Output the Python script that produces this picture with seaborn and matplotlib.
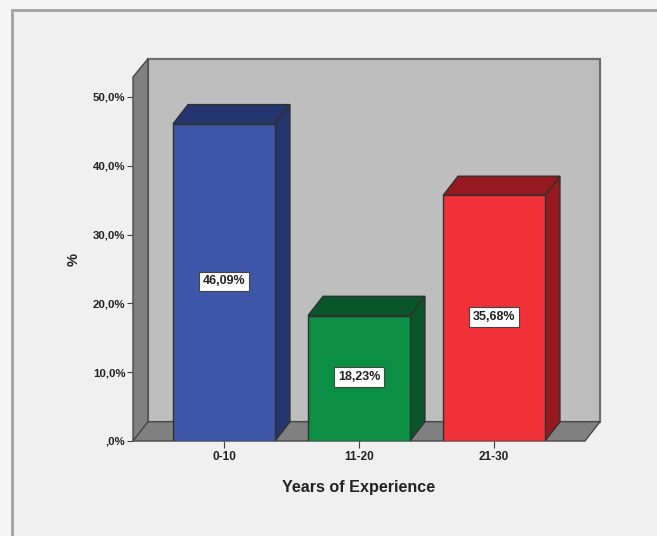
import matplotlib
matplotlib.use("Agg")
import matplotlib.pyplot as plt
from matplotlib.patches import Polygon, Rectangle
import pandas as pd
import seaborn as sns

categories = ["0-10", "11-20", "21-30"]
percentages = [46.09, 18.23, 35.68]
front_colors = ["#3d56a8", "#0a8f45", "#f23038"]
shade_colors = ["#25356f", "#08562a", "#96191f"]
y_ticks = [0, 10, 20, 30, 40, 50]
y_tick_labels = [",0%", "10,0%", "20,0%", "30,0%", "40,0%", "50,0%"]

W, H = 657, 536
sns.set_theme(style="white")
plt.rcParams["font.family"] = ["Liberation Sans", "DejaVu Sans"]
plt.rcParams["font.weight"] = "bold"

fig = plt.figure(figsize=(W / 100, H / 100), dpi=100, facecolor="#f5f5f5")

# Panel frame: only its top and left edges fall inside the canvas
fig.add_artist(Rectangle((12 / W, 0 - 0.05), 1.0, (H - 10) / H + 0.05,
                         transform=fig.transFigure, facecolor="#f0f0f0",
                         edgecolor="#a2a2a2", linewidth=2, zorder=-5))

# Front plane of the 3D box, in pixels from the canvas edges
left, right, bottom, top = 133, 585, 441, 77
ax = fig.add_axes([left / W, 1 - bottom / H, (right - left) / W, (bottom - top) / H])
ax.patch.set_visible(False)

df = pd.DataFrame({"years": categories, "pct": percentages})
bar_width = 0.755
sns.barplot(data=df, x="years", y="pct", hue="years", palette=front_colors,
            width=bar_width, saturation=1, legend=False, ax=ax,
            edgecolor="#303030", linewidth=1, zorder=3)

x0, x1 = -0.674, 2.674
y1 = 52.9
ax.set_xlim(x0, x1)
ax.set_ylim(0, y1)

# Depth of the box, expressed in data units
dx, dy = 0.111, 2.8

ax.add_patch(Polygon([(x0 + dx, dy), (x1 + dx, dy), (x1 + dx, y1 + dy - 0.15), (x0 + dx, y1 + dy - 0.15)],
                     facecolor="#bebebe", edgecolor="#6e6e6e", linewidth=1.6, clip_on=False, zorder=0.5))
wall = dict(edgecolor="#484848", linewidth=1, clip_on=False)
ax.add_patch(Polygon([(x0, 0), (x0 + dx, dy), (x0 + dx, y1 + dy - 0.15), (x0, y1)],
                     facecolor="#808080", zorder=0.6, **wall))
ax.add_patch(Polygon([(x0, 0), (x1, 0), (x1 + dx, dy), (x0 + dx, dy)],
                     facecolor="#808080", zorder=0.6, **wall))

# Top and side faces of every bar, plus its value label
half = bar_width / 2
for i, value in enumerate(percentages):
    a, b = i - half, i + half
    shade = dict(facecolor=shade_colors[i], edgecolor="#303030", linewidth=1, zorder=2.5)
    ax.add_patch(Polygon([(a, value), (b, value), (b + dx, value + dy), (a + dx, value + dy)], **shade))
    ax.add_patch(Polygon([(b, 0), (b + dx, dy), (b + dx, value + dy), (b, value)], **shade))
    ax.text(i, value / 2 + 0.15, f"{value:.2f}%".replace(".", ","), ha="center", va="center",
            fontsize=9, fontweight="bold", color="#222222", zorder=5,
            bbox=dict(boxstyle="square,pad=0.3", facecolor="white", edgecolor="#444444", linewidth=0.8))

sns.despine(ax=ax, left=True, bottom=True, top=True, right=True)
ax.set_yticks(y_ticks, y_tick_labels, fontsize=8.2, fontweight="bold", color="#222222")
ax.set_xticks(range(len(categories)), categories, fontsize=8.5, fontweight="bold", color="#222222")
ax.tick_params(axis="y", left=True, length=4.5, width=0.8, color="#404040", pad=1)
ax.tick_params(axis="x", bottom=True, length=5, width=0.8, color="#404040", pad=2.5)
ax.set_xlabel("Years of Experience", fontsize=11.6, fontweight="bold", color="#222222", labelpad=12)
ax.set_ylabel("")
fig.text(74 / W, 1 - 260 / H, "%", rotation=90, ha="center", va="center",
         fontsize=10.5, fontweight="bold", color="#222222")

fig.savefig("out.png", dpi=100, facecolor=fig.get_facecolor())
